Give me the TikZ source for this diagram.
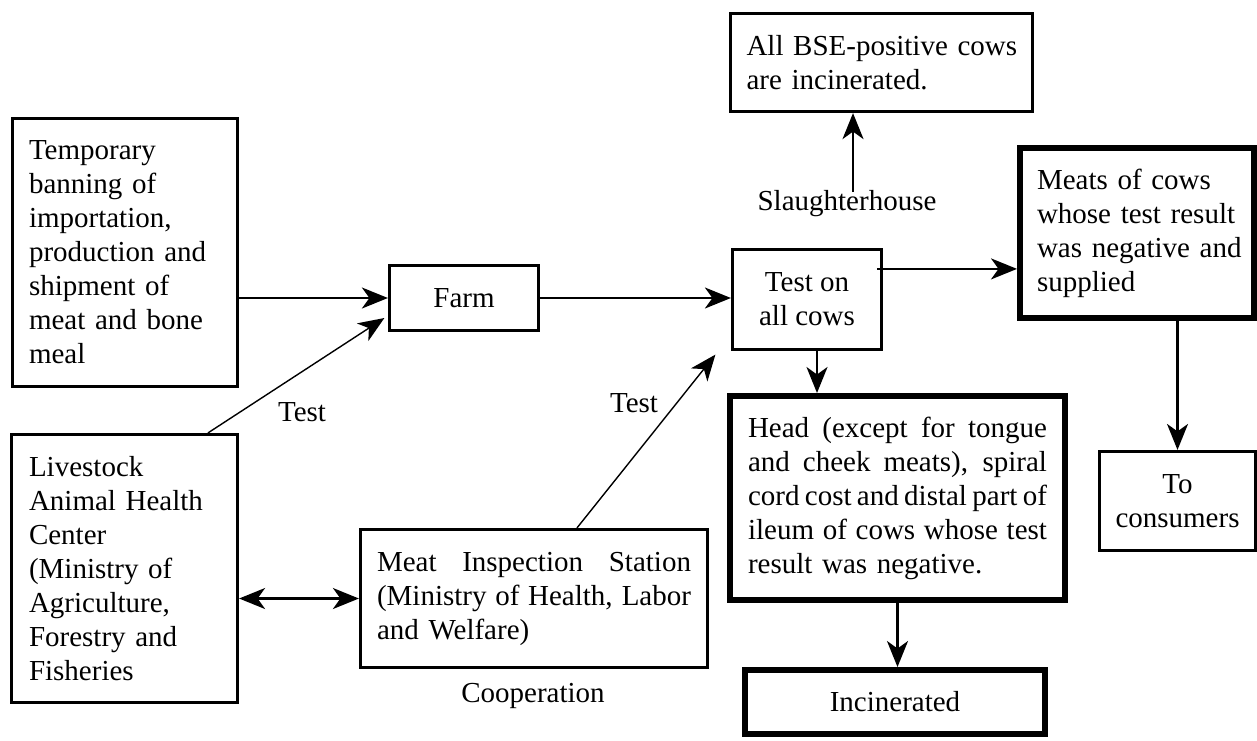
\documentclass[tikz,border=0pt]{standalone}
\usepackage{fontspec}
\setmainfont{Liberation Serif}
\usetikzlibrary{arrows.meta}
\setlength{\parindent}{0pt}
% one justified line of a given width
\newcommand{\jline}[2]{\makebox[#1][s]{\spaceskip=.25em plus 1em minus .12em\relax #2}}
% one unbreakable line
\newcommand{\ul}[1]{\mbox{#1}}
\begin{document}
\begin{tikzpicture}[x=1pt,y=-1pt,
  txt/.style={font={\fontsize{29}{34}\selectfont}},
  box/.style={draw, line width=3.2pt, inner sep=0pt, txt, align=left},
  heavybox/.style={box, line width=6pt},
  arrowtip/.tip={Stealth[length=26pt,width=21pt,inset=7.5pt]},
  conn/.style={line width=2.2pt, -arrowtip},
  testline/.style={line width=1.4pt, -arrowtip},
  both/.style={line width=2.2pt, arrowtip-arrowtip},
  lbl/.style={txt, inner sep=0pt}]
\useasboundingbox (0,0) rectangle (1257,740);

% left column
\node[box, minimum width=225pt, minimum height=268pt, text width=192pt] (tmp) at (125,252.5)
  {\ul{Temporary}\\\ul{banning of}\\\ul{importation,}\\\ul{production and}\\\ul{shipment of}\\\ul{meat and bone}\\\ul{meal}};
\node[box, minimum width=226pt, minimum height=268pt, text width=191pt] (live) at (124.5,568.5)
  {\ul{Livestock}\\\ul{Animal Health}\\\ul{Center}\\\ul{(Ministry of}\\\ul{Agriculture,}\\\ul{Forestry and}\\\ul{Fisheries}};

% middle
\node[box, minimum width=149pt, minimum height=65pt, align=center] (farm) at (464,298) {Farm};
\node[box, minimum width=347pt, minimum height=138pt, text width=314pt] (meat) at (534,598.5)
  {\jline{314pt}{Meat Inspection Station}\\\jline{314pt}{(Ministry of Health, Labor}\\\ul{and Welfare)}};
\node[lbl] (coop) at (533,695.5) {Cooperation};

% test and slaughterhouse
\node[box, minimum width=149pt, minimum height=100pt, align=center] (test) at (807,299.5) {\ul{Test on}\\\ul{all cows}};
\node[box, minimum width=302pt, minimum height=98pt, text width=270pt] (bse) at (881.5,62.5)
  {\ul{All BSE-positive cows}\\\ul{are incinerated.}};
\node[lbl] (slh) at (847,203.5) {Slaughterhouse};

% results
\node[heavybox, minimum width=234pt, minimum height=170pt, text width=200pt] (meats) at (1137,233)
  {\ul{Meats of cows}\\\ul{whose test result}\\\ul{was negative and}\\\ul{supplied}};
\node[box, minimum width=156pt, minimum height=99pt, align=center] (cons) at (1177.5,501) {\ul{To}\\\ul{consumers}};
\node[heavybox, minimum width=335pt, minimum height=204pt, text width=299pt] (head) at (897.5,498)
  {\jline{299pt}{Head (except for tongue}\\\jline{299pt}{and cheek meats), spiral}\\\jline{299pt}{cord cost and distal part of}\\\jline{299pt}{ileum of cows whose test}\\\ul{result was negative.}};
\node[heavybox, minimum width=300pt, minimum height=64pt, align=center] (inc) at (895,702) {Incinerated};

% labels on the test lines
\node[lbl] (t1) at (302,412.5) {Test};
\node[lbl] (t2) at (634,403.5) {Test};

% connectors
\draw[conn] (tmp.east |- farm.west) -- (farm.west);
\draw[conn] (farm.east) -- (farm.east -| test.west);
\draw[both] (live.east |- meat.west) -- (meat.west);

\coordinate (lt) at ([xshift=83.5pt]live.north);
\coordinate (lf) at ([xshift=-3.5pt,yshift=-20pt]farm.west);
\draw[testline] (lt) -- (lf);
\coordinate (mt) at ([xshift=43pt]meat.north);
\coordinate (mf) at ([xshift=-15.5pt,yshift=-3.5pt]test.south west);
\draw[testline] (mt) -- (mf);

\coordinate (sb) at ([xshift=6pt,yshift=-2pt]slh.north);
\draw[conn] (sb) -- (sb |- bse.south);
\coordinate (tm) at ([xshift=-6pt,yshift=-21pt]test.north east);
\draw[conn] (tm) -- (tm -| meats.west);
\coordinate (th) at ([xshift=10pt]test.south);
\draw[conn] (th) -- (th |- head.north);
\draw[conn] (cons.north |- meats.south) -- (cons.north);
\draw[conn] (head.south) -- (head.south |- inc.north);
\end{tikzpicture}
\end{document}
